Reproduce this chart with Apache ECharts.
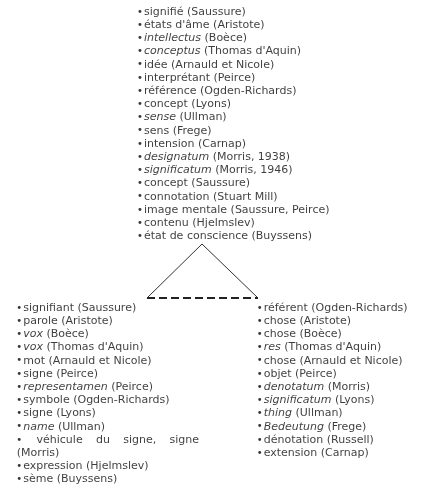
<!DOCTYPE html>
<html>
<head>
<meta charset="utf-8">
<script src="https://cdn.jsdelivr.net/npm/echarts@6/dist/echarts.min.js"></script>
<style>
html, body { margin: 0; padding: 0; background: #fff; }
#chart { width: 427px; height: 493px; }
</style>
</head>
<body>
<div id="chart"></div>
<script>
// [term, source, italic]
var topTerms = [
    ['signifié', 'Saussure', 0],
    ['états d\'âme', 'Aristote', 0],
    ['intellectus', 'Boèce', 1],
    ['conceptus', 'Thomas d\'Aquin', 1],
    ['idée', 'Arnauld et Nicole', 0],
    ['interprétant', 'Peirce', 0],
    ['référence', 'Ogden-Richards', 0],
    ['concept', 'Lyons', 0],
    ['sense', 'Ullman', 1],
    ['sens', 'Frege', 0],
    ['intension', 'Carnap', 0],
    ['designatum', 'Morris, 1938', 1],
    ['significatum', 'Morris, 1946', 1],
    ['concept', 'Saussure', 0],
    ['connotation', 'Stuart Mill', 0],
    ['image mentale', 'Saussure, Peirce', 0],
    ['contenu', 'Hjelmslev', 0],
    ['état de conscience', 'Buyssens', 0]
];
var leftTerms = [
    ['signifiant', 'Saussure', 0],
    ['parole', 'Aristote', 0],
    ['vox', 'Boèce', 1],
    ['vox', 'Thomas d\'Aquin', 1],
    ['mot', 'Arnauld et Nicole', 0],
    ['signe', 'Peirce', 0],
    ['representamen', 'Peirce', 1],
    ['symbole', 'Ogden-Richards', 0],
    ['signe', 'Lyons', 0],
    ['name', 'Ullman', 1],
    ['véhicule du signe, signe', 'Morris', 0],
    ['expression', 'Hjelmslev', 0],
    ['sème', 'Buyssens', 0]
];
var rightTerms = [
    ['référent', 'Ogden-Richards', 0],
    ['chose', 'Aristote', 0],
    ['chose', 'Boèce', 0],
    ['res', 'Thomas d\'Aquin', 1],
    ['chose', 'Arnauld et Nicole', 0],
    ['objet', 'Peirce', 0],
    ['denotatum', 'Morris', 1],
    ['significatum', 'Lyons', 1],
    ['thing', 'Ullman', 1],
    ['Bedeutung', 'Frege', 1],
    ['dénotation', 'Russell', 0],
    ['extension', 'Carnap', 0]
];

// triangle corners, in axis units (= px)
var apex = [202, 244];
var baseLeft = [147, 298];
var baseRight = [258, 298];

var FONT = 'DejaVu Sans';
var FS = 11;
var LINE = 13.2;
var BULLET_W = 7;
var INK = '#0c0c0c';

var columns = [
    { items: topTerms, x: 137, y: 12, width: 285 },
    { items: leftTerms, x: 16.2, y: 308, width: 182.8 },
    { items: rightTerms, x: 256.7, y: 308, width: 168 }
];

var ctx = document.createElement('canvas').getContext('2d');
function measure(text, italic) {
    ctx.font = (italic ? 'italic ' : '') + FS + 'px "' + FONT + '"';
    return ctx.measureText(text).width;
}

var rich = {
    b: { fontSize: 10, width: BULLET_W, color: '#000', fontFamily: FONT },
    n: { fontSize: FS, color: INK, fontFamily: FONT },
    i: { fontSize: FS, color: INK, fontFamily: FONT, fontStyle: 'italic' }
};
var gapCount = 0;

function esc(s) { return s.replace(/[{}|]/g, ''); }

function buildColumn(col) {
    var out = [];
    var line = 0;
    col.items.forEach(function (it) {
        var term = it[0], src = '(' + it[1] + ')', ital = it[2];
        var full = BULLET_W + measure(term + ' ' + src, false);
        if (full <= col.width) {
            out.push({
                value: [col.x, col.y + line * LINE],
                name: '{b|•}{' + (ital ? 'i' : 'n') + '|' + esc(term) + '} {n|' + esc(src) + '}'
            });
            line++;
            return;
        }
        // greedy wrap, non-last lines justified across the column width
        var words = term.split(' ').concat([src]);
        var lines = [[]], w = BULLET_W;
        words.forEach(function (wd) {
            var ww = measure(wd, ital && wd !== src);
            var cur = lines[lines.length - 1];
            var add = (cur.length ? measure(' ') : 0) + ww;
            if (cur.length && w + add > col.width) {
                lines.push([wd]);
                w = ww;
            } else {
                cur.push(wd);
                w += add;
            }
        });
        lines.forEach(function (ws, li) {
            var last = li === lines.length - 1;
            var s = li === 0 ? '{b|•}' : '';
            if (!last) {
                var sum = li === 0 ? BULLET_W : 0;
                ws.forEach(function (wd) { sum += measure(wd, ital && wd !== src); });
                var gaps = li === 0 ? ws.length : ws.length - 1;
                var gname = 'g' + (gapCount++);
                rich[gname] = { width: (col.width - sum) / gaps, fontSize: FS, fontFamily: FONT };
                ws.forEach(function (wd, k) {
                    if (li > 0 && k === 0) {
                        s += '{n|' + esc(wd) + '}';
                    } else {
                        s += '{' + gname + '|\u00a0}{' + (ital && wd !== src ? 'i' : 'n') + '|' + esc(wd) + '}';
                    }
                });
            } else {
                s += ws.map(function (wd) {
                    return '{' + (ital && wd !== src ? 'i' : 'n') + '|' + esc(wd) + '}';
                }).join(' ');
            }
            var x = li === 0 ? col.x : col.x + 0.6;
            out.push({ value: [x, col.y + line * LINE], name: s });
            line++;
        });
    });
    return out;
}

var textSeries = columns.map(function (col) {
    return {
        type: 'scatter',
        symbolSize: 0,
        silent: true,
        data: buildColumn(col),
        label: {
            show: true,
            position: 'right',
            distance: 0,
            formatter: function (p) { return p.name; },
            fontFamily: FONT,
            fontSize: FS,
            color: INK,
            rich: rich
        }
    };
});

var chart = echarts.init(document.getElementById('chart'));
chart.setOption({
    backgroundColor: '#fff',
    animation: false,
    grid: { left: 0, right: 0, top: 0, bottom: 0 },
    xAxis: { type: 'value', min: 0, max: 427, show: false },
    yAxis: { type: 'value', min: 0, max: 493, inverse: true, show: false },
    series: textSeries.concat([
        {
            type: 'line',
            symbol: 'none',
            silent: true,
            data: [baseLeft, apex, baseRight],
            lineStyle: { color: '#333', width: 1 }
        },
        {
            type: 'line',
            symbol: 'none',
            silent: true,
            data: [baseLeft, baseRight],
            lineStyle: { color: '#222', width: 2, type: [8, 4] }
        }
    ])
});
</script>
</body>
</html>
